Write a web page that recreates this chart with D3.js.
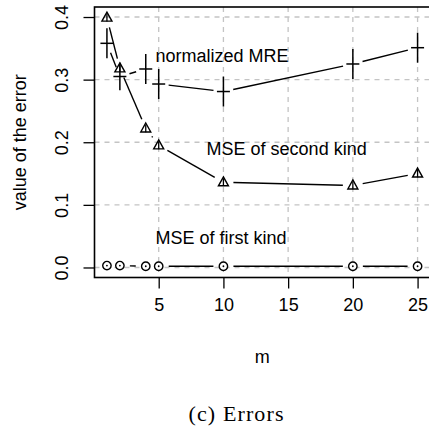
<!DOCTYPE html>
<html><head><meta charset="utf-8">
<script src="https://cdn.jsdelivr.net/npm/d3@7"></script>
<style>body{margin:0;background:#fff}svg{display:block}</style>
</head><body>
<svg id="c" width="429" height="428"></svg>
<script>
const mValues = [1, 2, 4, 5, 10, 20, 25];
const mreValues = [0.358, 0.305, 0.317, 0.293, 0.281, 0.325, 0.351];
const mreErr = [0.024, 0.022, 0.024, 0.024, 0.024, 0.024, 0.024];
const mse2Values = [0.399, 0.318, 0.222, 0.195, 0.136, 0.131, 0.150];
const mse2Err = [0.006, 0.006, 0.006, 0.006, 0.006, 0.006, 0.006];
const mse1Values = [0.003, 0.003, 0.002, 0.002, 0.002, 0.002, 0.002];
const xTicks = [5, 10, 15, 20, 25];
const yTicks = [0.0, 0.1, 0.2, 0.3, 0.4];
const labels = [
  {text: "normalized MRE", m: 4.75, v: 0.338},
  {text: "MSE of second kind", m: 8.7, v: 0.190},
  {text: "MSE of first kind", m: 4.75, v: 0.048}
];

const svg = d3.select("#c");
const L = 94.5, R = 430, T = 7, B = 277.5;
const x = d3.scaleLinear().domain([0.04, 25.96]).range([L, R]);
const y = d3.scaleLinear().domain([-0.016, 0.416]).range([B, T]);
const font = "Liberation Sans, Arial, sans-serif";

// grid
const g = svg.append("g");
g.selectAll(".gx").data(xTicks).join("line")
  .attr("x1", d => x(d)).attr("x2", d => x(d)).attr("y1", T).attr("y2", B)
  .attr("stroke", "#c4c4c4").attr("stroke-width", 1.3).attr("stroke-dasharray", "5,5");
g.selectAll(".gy").data(yTicks).join("line")
  .attr("x1", L).attr("x2", R).attr("y1", d => y(d)).attr("y2", d => y(d))
  .attr("stroke", "#c4c4c4").attr("stroke-width", 1.3).attr("stroke-dasharray", "5,5");

// axes
const xAxis = d3.axisBottom(x).tickValues(xTicks).tickSize(11).tickPadding(10).tickFormat(d3.format("d"));
const ax = svg.append("g").attr("transform", `translate(0,${B})`).call(xAxis);
ax.select(".domain").remove();
ax.selectAll("line").attr("stroke", "#000").attr("stroke-width", 1.3);
ax.selectAll("text").attr("font-family", font).attr("font-size", 18).attr("fill", "#000").attr("dy", "0.71em");

const yAxis = d3.axisLeft(y).tickValues(yTicks).tickSize(11).tickFormat(d3.format(".1f"));
const ay = svg.append("g").attr("transform", `translate(${L},0)`).call(yAxis);
ay.select(".domain").remove();
ay.selectAll("line").attr("stroke", "#000").attr("stroke-width", 1.3);
ay.selectAll("text").attr("font-family", font).attr("font-size", 18).attr("fill", "#000")
  .attr("x", null).attr("dy", null).attr("text-anchor", "middle")
  .attr("transform", "translate(-33,0) rotate(-90)").attr("y", 0).attr("dy", "0.35em");

// box
svg.append("rect").attr("x", L).attr("y", T).attr("width", R - L).attr("height", B - T)
  .attr("fill", "none").attr("stroke", "#000").attr("stroke-width", 1.6);

// connecting lines with gaps (type = "b")
function gapLines(vals, gap) {
  const pts = mValues.map((m, i) => [x(m), y(vals[i])]);
  const segs = [];
  for (let i = 0; i < pts.length - 1; i++) {
    const [x0, y0] = pts[i], [x1, y1] = pts[i + 1];
    const len = Math.hypot(x1 - x0, y1 - y0);
    if (len <= 2 * gap) continue;
    const ux = (x1 - x0) / len, uy = (y1 - y0) / len;
    segs.push([x0 + ux * gap, y0 + uy * gap, x1 - ux * gap, y1 - uy * gap]);
  }
  svg.append("g").selectAll("line").data(segs).join("line")
    .attr("x1", d => d[0]).attr("y1", d => d[1]).attr("x2", d => d[2]).attr("y2", d => d[3])
    .attr("stroke", "#000").attr("stroke-width", 1.4);
}
gapLines(mreValues, 10);
gapLines(mse2Values, 10);
gapLines(mse1Values, 10);

// MRE crosses with error bars
const cr = svg.append("g").selectAll("g").data(mValues).join("g");
cr.append("line").attr("x1", d => x(d) - 6.5).attr("x2", d => x(d) + 6.5)
  .attr("y1", (d, i) => y(mreValues[i])).attr("y2", (d, i) => y(mreValues[i]))
  .attr("stroke", "#000").attr("stroke-width", 1.5);
cr.append("line").attr("x1", d => x(d)).attr("x2", d => x(d))
  .attr("y1", (d, i) => y(mreValues[i] + mreErr[i])).attr("y2", (d, i) => y(mreValues[i] - mreErr[i]))
  .attr("stroke", "#000").attr("stroke-width", 1.5);

// triangles
const tr = svg.append("g").selectAll("g").data(mValues).join("g")
  .attr("transform", (d, i) => `translate(${x(d)},${y(mse2Values[i])})`);
tr.append("path").attr("d", "M0,-5.5L5,3.5L-5,3.5Z").attr("fill", "none")
  .attr("stroke", "#000").attr("stroke-width", 1.4);
tr.append("line").attr("x1", 0).attr("x2", 0)
  .attr("y1", (d, i) => y(mse2Values[i] + mse2Err[i]) - y(mse2Values[i]))
  .attr("y2", (d, i) => y(mse2Values[i] - mse2Err[i]) - y(mse2Values[i]))
  .attr("stroke", "#000").attr("stroke-width", 1.3);

// circles
const ci = svg.append("g").selectAll("g").data(mValues).join("g")
  .attr("transform", (d, i) => `translate(${x(d)},${y(mse1Values[i])})`);
ci.append("circle").attr("r", 4.2).attr("fill", "#fff").attr("stroke", "#000").attr("stroke-width", 1.4);
ci.append("circle").attr("r", 0.9).attr("fill", "#000");

// text labels
svg.append("g").selectAll("text").data(labels).join("text")
  .attr("x", d => x(d.m)).attr("y", d => y(d.v)).attr("dy", "0.35em")
  .attr("font-family", font).attr("font-size", 18).attr("fill", "#000").text(d => d.text);

// axis titles
svg.append("text").attr("x", (L + R) / 2).attr("y", 357).attr("dy", "0.35em").attr("text-anchor", "middle")
  .attr("font-family", font).attr("font-size", 18).text("m");
svg.append("text").attr("transform", `translate(20,${(T + B) / 2}) rotate(-90)`).attr("dy", "0.35em")
  .attr("text-anchor", "middle").attr("font-family", font).attr("font-size", 18).text("value of the error");

// caption
svg.append("text").attr("x", 236).attr("y", 413).attr("dy", "0.35em").attr("text-anchor", "middle")
  .attr("font-family", "Liberation Serif, Times New Roman, serif").attr("font-size", 22)
  .attr("textLength", 95).attr("lengthAdjust", "spacing").text("(c) Errors");
</script>
</body></html>
